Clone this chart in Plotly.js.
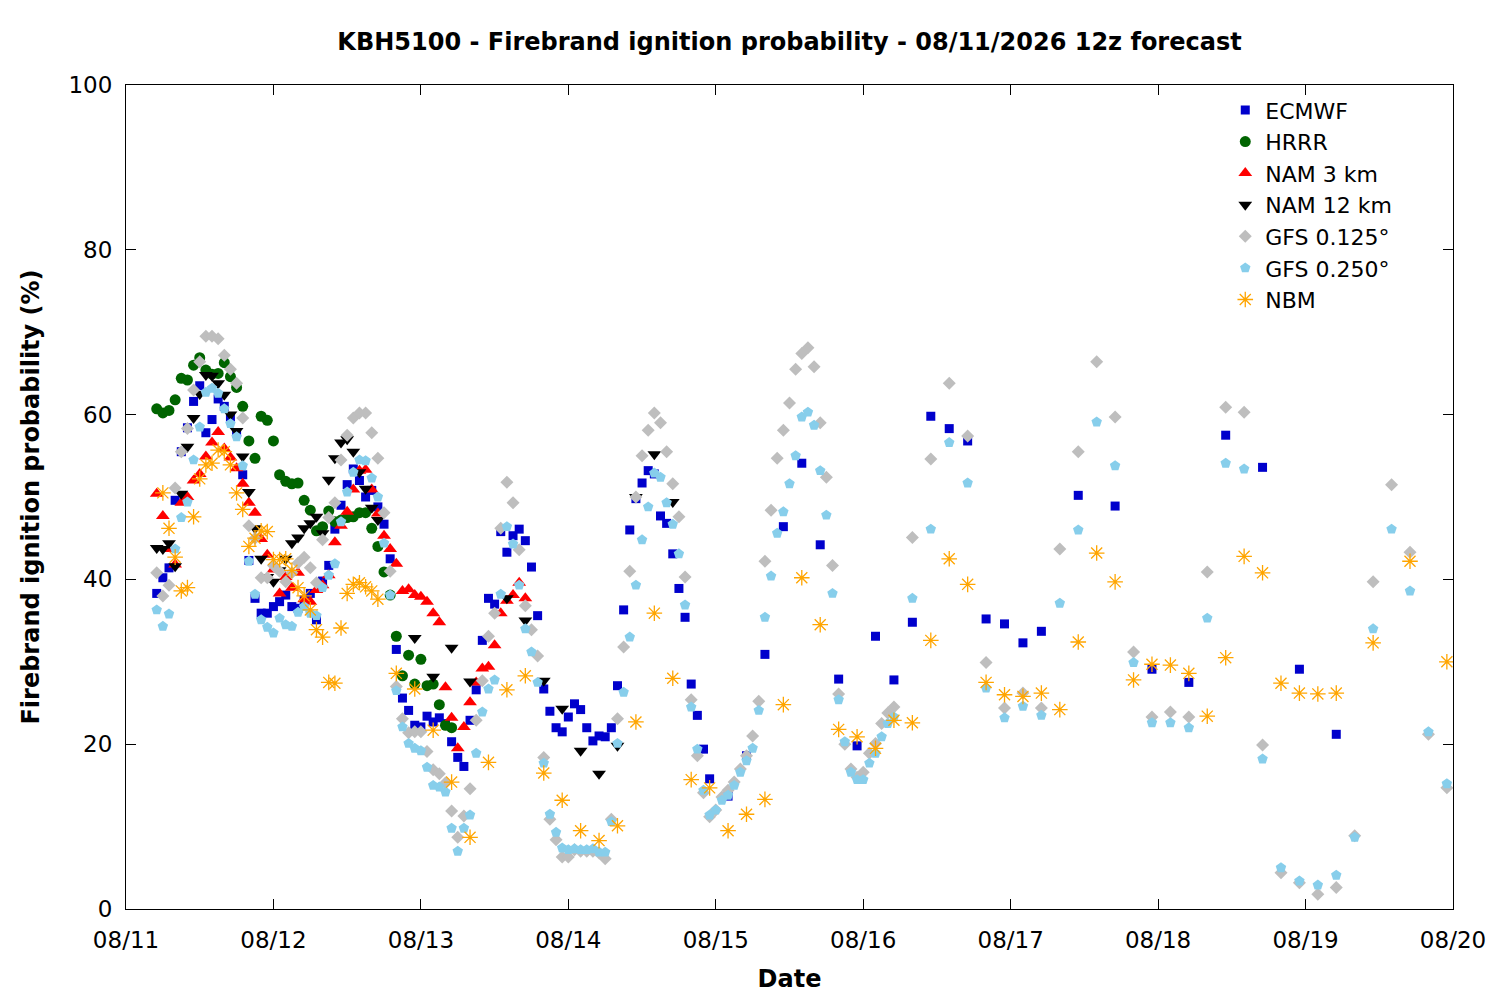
<!DOCTYPE html>
<html>
<head>
<meta charset="utf-8">
<script src="https://cdn.plot.ly/plotly-3.0.1.min.js"></script>
<style>
  html, body { margin: 0; padding: 0; background: #fff; }
  #chart { width: 1500px; height: 1000px; }
</style>
</head>
<body>
<div id="chart"></div>
<script>
// hours are counted from 08/11 00:00 (local time of the plot)
function span(from, to, step) {
    const out = [];
    for (let h = from; h <= to; h += step) out.push(h);
    return out;
}

const ecmwfHours = span(5, 95, 1).concat(span(98, 149, 3), span(155, 197, 6));
const ecmwfVals = [
    38.3, 40.2, 41.4, 49.6, 55.5, 58.4, 61.6, 63.5, 57.8, 59.4,
    61.9, 61.0, 59.7, 57.8, 52.7, 42.3, 37.7, 35.9, 35.9, 36.7,
    37.3, 38.1, 36.7, 36.5, 37.5, 38.3, 35.1, 39.8, 41.7, 46.1,
    49.0, 51.5, 53.4, 52.0, 50.0, 50.8, 48.8, 46.7, 42.5, 31.5,
    25.6, 24.1, 22.3, 22.1, 23.4, 22.7, 23.2, 22.5, 20.3, 18.4,
    17.3, 22.9, 26.6, 32.6, 37.7, 37.0, 45.8, 43.3, 45.3, 46.1,
    44.7, 41.5, 35.6, 26.7, 24.0, 22.0, 21.5, 23.3, 24.9, 24.2,
    22.0, 20.4, 21.0, 20.9, 22.0, 27.1, 36.3, 46.0, 49.8, 51.7,
    53.2, 52.8, 47.7, 46.8, 43.1, 38.9, 35.4, 27.3, 23.5, 19.4,
    15.8,
    13.7, 18.6, 30.9, 46.4, 54.1, 44.2, 27.9, 19.8, 33.1, 27.8,
    34.8, 59.8, 58.3, 56.8, 35.2, 34.6, 32.3, 33.7,
    50.2, 48.9, 29.1, 27.5, 57.5, 53.6, 29.1, 21.2
];

const hrrrHours = span(5, 53, 1);
const hrrrVals = [
    60.7, 60.2, 60.5, 61.8, 64.4, 64.2, 66.0, 66.9, 65.4, 64.9,
    65.0, 66.3, 64.6, 63.3, 61.0, 56.8, 54.7, 59.8, 59.3, 56.8,
    52.7, 51.9, 51.6, 51.7, 49.6, 48.4, 45.9, 46.4, 48.3, 47.0,
    47.2, 47.5, 47.6, 48.1, 48.1, 46.2, 44.0, 40.9, 38.1, 33.1,
    28.3, 30.8, 27.3, 30.3, 27.1, 27.3, 24.8, 22.3, 22.0
];

const nam3Hours = span(5, 65, 1);
const nam3Vals = [
    50.4, 47.7, 43.7, 41.8, 49.3, 50.0, 52.0, 52.8, 54.9, 56.6,
    57.9, 55.9, 54.8, 53.5, 51.6, 49.3, 48.1, 44.9, 43.0, 41.2,
    38.3, 40.3, 39.0, 40.8, 37.6, 37.3, 38.7, 39.3, 40.5, 44.5,
    46.5, 48.2, 50.9, 53.2, 53.3, 50.9, 48.0, 45.3, 43.7, 41.9,
    38.6, 38.8, 38.1, 37.9, 37.3, 35.9, 34.8, 26.9, 23.2, 19.5,
    22.1, 25.1, 27.5, 29.2, 29.4, 32.0, 35.9, 37.4, 38.1, 39.6,
    37.7
];

const nam12Hours = span(5, 41, 1).concat([47, 50, 53, 56, 62, 65, 68, 71, 74, 77, 80, 83, 86, 89]);
const nam12Vals = [
    43.8, 43.7, 44.4, 41.6, 50.4, 56.1, 59.6, 62.5, 64.8, 64.7,
    63.8, 62.4, 60.0, 58.0, 54.9, 50.6, 46.2, 42.5, 40.3, 39.7,
    41.1, 42.5, 44.4, 45.1, 46.2, 46.8, 47.6, 45.6, 52.1, 54.7,
    56.6, 57.0, 55.5, 53.0, 51.0, 48.7, 47.2,
    32.9, 28.2, 31.7, 27.6, 37.7, 35.0, 27.7, 24.3, 19.2, 16.4,
    19.8, 50.0, 55.2, 49.4
];

const gfsHours = span(5, 125, 1).concat(span(128, 215, 3));
const gfs0125Vals = [
    40.8, 38.0, 39.3, 51.1, 55.5, 58.3, 63.0, 66.4, 69.5, 69.5,
    69.2, 67.2, 65.5, 63.8, 59.6, 46.5, 45.0, 40.2, 40.2, 41.7,
    41.0, 39.7, 40.8, 42.0, 42.7, 41.4, 39.6, 44.8, 47.5, 49.3,
    54.5, 57.5, 59.6, 60.2, 60.2, 57.8, 54.7, 48.1, 41.0, 27.0,
    23.1, 21.4, 21.5, 21.5, 19.1, 16.9, 16.4, 15.3, 11.9, 8.7,
    11.3, 14.6, 22.9, 27.7, 33.1, 35.9, 46.2, 51.8, 49.3, 43.6,
    36.8, 33.9, 30.7, 18.4, 10.9, 8.4, 6.3, 6.3, 7.2, 7.0,
    7.0, 7.0, 6.8, 6.1, 10.9, 23.1, 31.8, 41.0, 50.0, 55.0,
    58.1, 60.2, 59.0, 55.5, 51.6, 47.6, 40.3, 25.4, 18.6, 14.1,
    11.2, 12.0, 13.6, 14.4, 15.4, 17.0, 18.6, 21.0, 25.2, 42.2,
    48.4, 54.7, 58.1, 61.4, 65.5, 67.4, 68.1, 65.8, 59.0, 52.4,
    41.7, 26.1, 20.0, 17.0, 16.0, 16.6, 18.9, 20.1, 22.5, 23.8,
    24.5,
    45.1, 54.6, 63.8, 57.4, 29.9, 24.4, 26.2, 24.4, 43.7, 55.5,
    66.4, 59.7, 31.2, 23.3, 23.9, 23.3, 40.9, 60.9, 60.3, 19.9,
    4.4, 3.2, 1.8, 2.6, 8.9, 39.7, 51.5, 43.3, 21.2, 14.7
];
const gfs0250Vals = [
    36.3, 34.3, 35.8, 43.7, 47.5, 49.4, 54.5, 58.5, 62.7, 63.2,
    62.6, 60.7, 58.9, 57.3, 53.8, 42.2, 38.2, 35.1, 34.2, 33.5,
    35.3, 34.5, 34.3, 36.0, 36.7, 35.9, 35.6, 39.0, 40.5, 41.9,
    47.0, 50.6, 53.0, 54.5, 54.4, 52.3, 50.0, 44.4, 38.1, 26.5,
    22.1, 20.1, 19.5, 19.2, 17.2, 15.0, 14.8, 14.2, 9.8, 7.0,
    9.8, 11.4, 18.9, 23.9, 26.7, 27.8, 38.2, 46.4, 44.3, 39.3,
    34.0, 31.2, 27.5, 17.7, 11.5, 9.3, 7.4, 7.2, 7.3, 7.2,
    7.2, 7.3, 6.9, 6.9, 10.6, 20.1, 26.3, 33.0, 39.3, 44.8,
    48.8, 52.9, 52.4, 49.3, 46.7, 43.1, 36.9, 24.5, 19.4, 14.4,
    11.4, 12.0, 13.2, 13.8, 15.0, 16.6, 18.0, 19.5, 24.1, 35.4,
    40.4, 45.6, 48.2, 51.6, 55.0, 59.7, 60.3, 58.7, 53.2, 47.8,
    38.3, 25.4, 20.3, 16.6, 15.7, 15.7, 17.7, 18.9, 20.9, 22.5,
    23.3,
    37.7, 46.1, 56.6, 51.7, 26.8, 23.2, 24.6, 23.5, 37.1, 46.0,
    59.1, 53.8, 29.9, 22.6, 22.6, 22.0, 35.3, 54.1, 53.4, 18.2,
    5.0, 3.4, 2.9, 4.1, 8.7, 34.0, 46.1, 38.6, 21.5, 15.2
];

const nbmHours = span(6, 41, 1).concat(span(44, 197, 3), [203, 209, 215]);
const nbmVals = [
    50.5, 46.2, 42.7, 38.6, 39.0, 47.6, 52.2, 53.9, 54.1, 55.7,
    55.5, 53.9, 50.5, 48.5, 44.0, 45.0, 45.9, 45.8, 42.4, 42.4,
    42.5, 41.1, 39.0, 38.0, 36.3, 33.9, 33.0, 27.5, 27.4, 34.1,
    38.3, 39.4, 39.6, 39.1, 38.6, 37.6,
    28.6, 26.7, 21.7, 15.4, 8.7, 17.8, 26.6, 28.3, 16.5, 13.2,
    9.5, 8.3, 10.1, 22.7, 35.9, 28.0, 15.7, 14.7, 9.5, 11.5,
    13.3, 24.8, 40.2, 34.5, 21.8, 20.9, 19.5, 22.9, 22.6, 32.6,
    42.5, 39.4, 27.5, 26.0, 25.8, 26.2, 24.2, 32.4, 43.2, 39.7,
    27.8, 29.7, 29.6, 28.6, 23.4, 30.5, 42.8, 40.8, 27.4, 26.2,
    26.1, 26.2,
    32.3, 42.2, 30.0
];

const START = Date.UTC(2026, 7, 11, 0, 0);
const toDate = h => new Date(START + h * 3600000).toISOString().slice(0, 16).replace('T', ' ');

const FONT = '"DejaVu Sans", Verdana, sans-serif';

function series(name, hours, vals, marker) {
    const n = Math.min(hours.length, vals.length);
    return {
        name: name,
        x: hours.slice(0, n).map(toDate),
        y: vals.slice(0, n),
        type: 'scatter',
        mode: 'markers',
        marker: marker,
        hoverinfo: 'x+y+name',
    };
}

const data = [
    series('ECMWF', ecmwfHours, ecmwfVals,
        {symbol: 'square', size: 9, color: '#0000CC', line: {width: 0}}),
    series('HRRR', hrrrHours, hrrrVals,
        {symbol: 'circle', size: 11, color: '#006400', line: {width: 0}}),
    series('NAM 3 km', nam3Hours, nam3Vals,
        {symbol: 'triangle-up', size: 12, color: '#FF0000', line: {width: 0}}),
    series('NAM 12 km', nam12Hours, nam12Vals,
        {symbol: 'triangle-down', size: 12, color: '#000000', line: {width: 0}}),
    series('GFS 0.125°', gfsHours, gfs0125Vals,
        {symbol: 'diamond', size: 10, color: '#BEBEBE', line: {width: 0}}),
    series('GFS 0.250°', gfsHours, gfs0250Vals,
        {symbol: 'pentagon', size: 11, color: '#87CEEB', line: {width: 0}}),
    series('NBM', nbmHours, nbmVals,
        {symbol: 'asterisk-open', size: 13, color: '#FFA500', line: {color: '#FFA500', width: 1.3}}),
];

const layout = {
    width: 1500,
    height: 1000,
    paper_bgcolor: '#ffffff',
    plot_bgcolor: '#ffffff',
    font: {family: FONT, size: 23, color: '#000'},
    margin: {l: 126, r: 47, t: 85, b: 91, autoexpand: false},
    title: {
        text: '<b>KBH5100 - Firebrand ignition probability - 08/11/2026 12z forecast</b>',
        font: {family: FONT, size: 24, color: '#000'},
        xref: 'paper', x: 0.5, xanchor: 'center',
        yref: 'container', y: 0.958, yanchor: 'middle',
    },
    xaxis: {
        type: 'date',
        range: ['2026-08-11 00:00', '2026-08-20 00:00'],
        tick0: '2026-08-11',
        dtick: 86400000,
        tickformat: '%m/%d',
        ticks: 'inside',
        ticklen: 10,
        tickcolor: '#000',
        tickfont: {family: FONT, size: 23},
        ticklabelstandoff: 10,
        showline: true,
        linecolor: '#000',
        linewidth: 1,
        mirror: 'ticks',
        showgrid: false,
        zeroline: false,
        title: {text: '<b>Date</b>', font: {family: FONT, size: 24}, standoff: 18},
    },
    yaxis: {
        range: [0, 100],
        dtick: 20,
        ticks: 'inside',
        ticklen: 10,
        tickcolor: '#000',
        tickfont: {family: FONT, size: 23},
        ticklabelstandoff: 8,
        showline: true,
        linecolor: '#000',
        linewidth: 1,
        mirror: 'ticks',
        showgrid: false,
        zeroline: false,
        title: {text: '<b>Firebrand ignition probability (%)</b>', font: {family: FONT, size: 24}, standoff: 22},
    },
    showlegend: true,
    legend: {
        x: 0.958, xanchor: 'right',
        y: 0.995, yanchor: 'top',
        bgcolor: 'rgba(0,0,0,0)',
        font: {family: FONT, size: 22},
        tracegroupgap: 0,
        itemsizing: 'trace',
    },
    hovermode: 'closest',
};

Plotly.newPlot('chart', data, layout, {displayModeBar: false});
</script>
</body>
</html>
